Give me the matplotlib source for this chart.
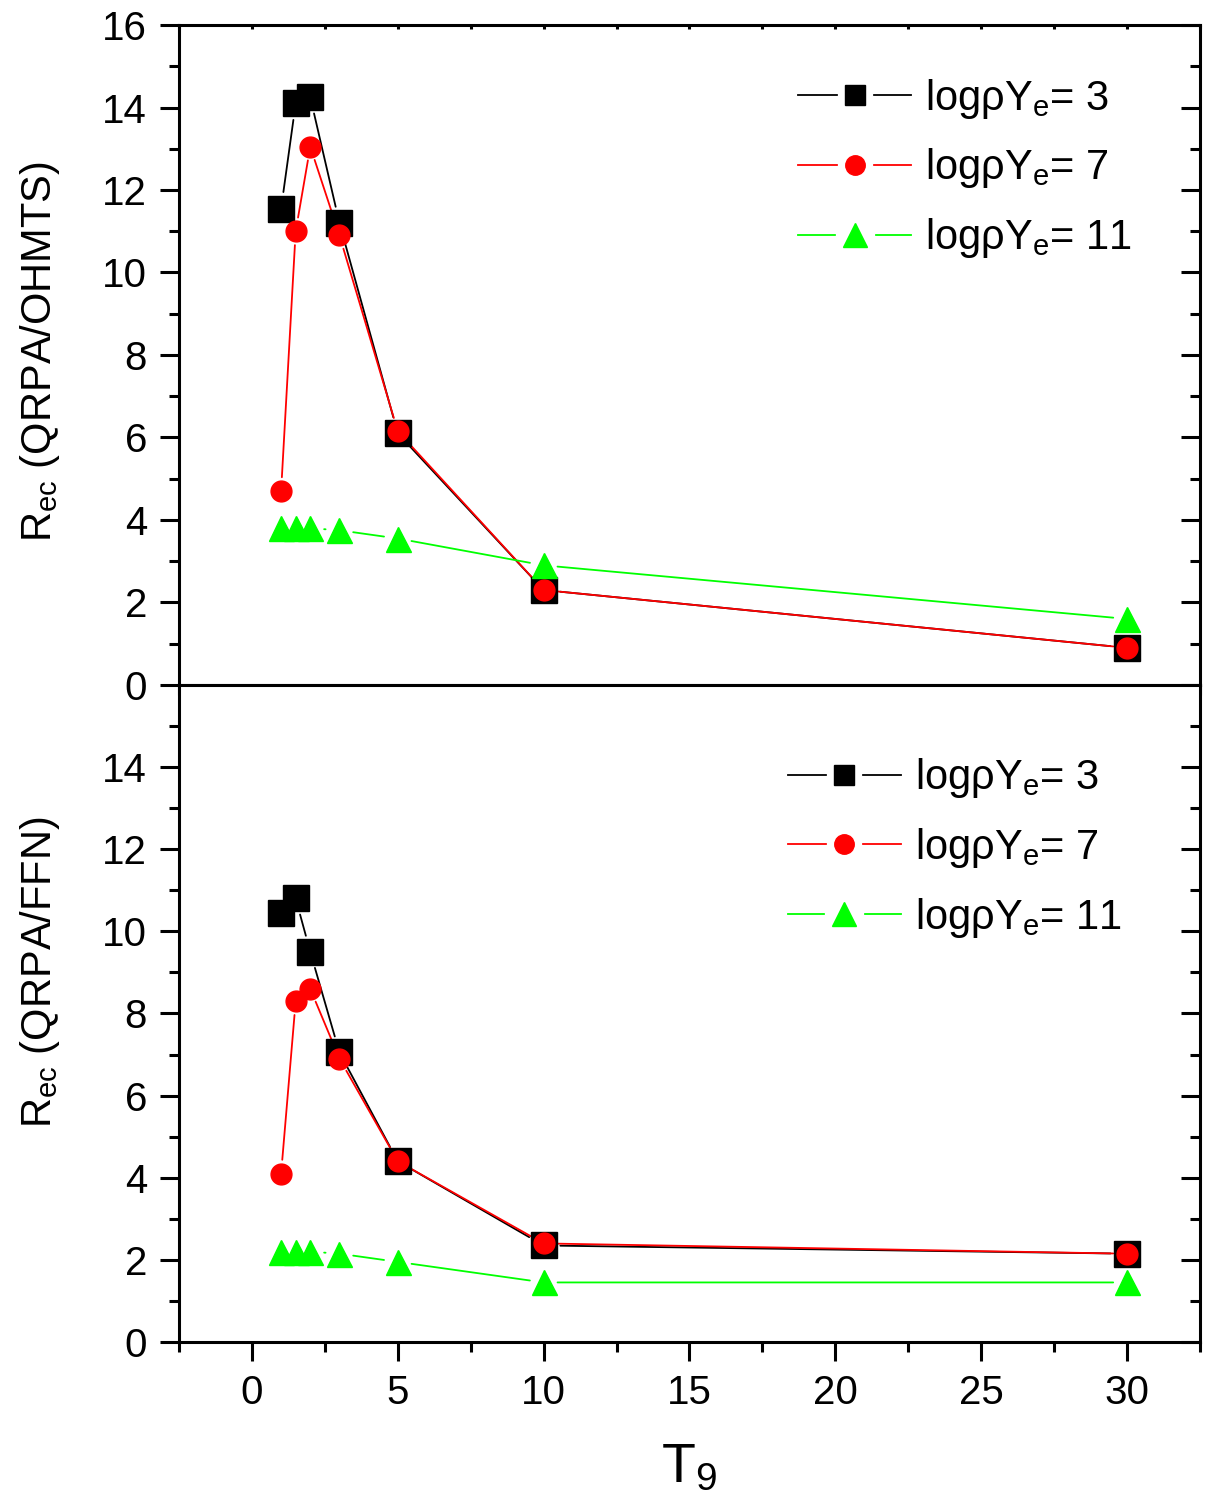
import matplotlib
matplotlib.use("Agg")
import matplotlib.pyplot as plt
from matplotlib.lines import Line2D
from matplotlib.legend_handler import HandlerTuple

plt.rcParams['font.family'] = ['Liberation Sans', 'DejaVu Sans']
plt.rcParams['mathtext.fontset'] = 'custom'
plt.rcParams['mathtext.rm'] = 'Liberation Sans'
plt.rcParams['mathtext.it'] = 'Liberation Sans:italic'

# temperatures T9
t9 = [1, 1.5, 2, 3, 5, 10, 30]

# ratio QRPA / OHMTS
ohmts_3 = [11.55, 14.1, 14.25, 11.2, 6.1, 2.3, 0.9]
ohmts_7 = [4.7, 11.0, 13.05, 10.9, 6.15, 2.3, 0.9]
ohmts_11 = [3.8, 3.8, 3.8, 3.75, 3.55, 2.9, 1.6]

# ratio QRPA / FFN
ffn_3 = [10.45, 10.8, 9.5, 7.05, 4.4, 2.35, 2.15]
ffn_7 = [4.1, 8.3, 8.6, 6.9, 4.4, 2.4, 2.15]
ffn_11 = [2.2, 2.2, 2.2, 2.15, 1.95, 1.45, 1.45]

labels = ['logρY$_{\\rm e}$= 3', 'logρY$_{\\rm e}$= 7', 'logρY$_{\\rm e}$= 11']

styles = [
    dict(color='black', marker='s', ms=19, lms=14, gap=12),
    dict(color='red', marker='o', ms=15, lms=14, gap=10),
    dict(color='#00ff00', marker='^', ms=18, lms=17, gap=10),
]

fig = plt.figure(figsize=(12.07, 15.07), dpi=100)
ax1 = fig.add_axes([0.1483, 0.5455, 0.8459, 0.4379])
ax2 = fig.add_axes([0.1483, 0.1095, 0.8459, 0.4360], sharex=ax1)


def draw_series(ax, x, y, st):
    # Origin-style lines: each segment stops short of the markers
    for i in range(len(x) - 1):
        ax.annotate('', xy=(x[i + 1], y[i + 1]), xytext=(x[i], y[i]),
                    arrowprops=dict(arrowstyle='-', color=st['color'], lw=1.3,
                                    shrinkA=st['gap'], shrinkB=st['gap']),
                    zorder=2)
    ax.plot(x, y, ls='none', marker=st['marker'], ms=st['ms'],
            color=st['color'], mec=st['color'], zorder=3)


def legend_handles():
    hs = []
    for st in styles:
        line = Line2D([], [], color=st['color'], lw=1.3)
        blank = Line2D([], [], ls='none', marker='s', ms=st['lms'],
                       mfc='white', mec='white', mew=11)
        mark = Line2D([], [], ls='none', marker=st['marker'], ms=st['lms'],
                      color=st['color'], mec=st['color'])
        hs.append((line, blank, mark))
    return hs


def right_ticks_inward(ax):
    for t in ax.yaxis.get_ticklines(minor=False)[1::2]:
        t.set_marker(0)
    for t in ax.yaxis.get_ticklines(minor=True)[1::2]:
        t.set_marker(0)


def style_axis(ax):
    for sp in ax.spines.values():
        sp.set_linewidth(2.2)
    ax.set_xlim(-2.5, 32.5)
    ax.set_ylim(0, 16)
    ax.set_xticks([0, 5, 10, 15, 20, 25, 30])
    ax.set_xticks([-2.5, 2.5, 7.5, 12.5, 17.5, 22.5, 27.5, 32.5], minor=True)
    ax.set_yticks(range(0, 17, 2))
    ax.set_yticks(range(1, 17, 2), minor=True)
    ax.tick_params(which='both', direction='out', width=2.2, labelsize=29,
                   top=False, right=False)
    ax.tick_params(which='major', length=14, pad=9)
    ax.tick_params(which='minor', length=7)
    ax.tick_params(axis='y', which='both', right=True, labelright=False)
    right_ticks_inward(ax)


for ax, series, ylab, lab_y, leg_anchor in [
        (ax1, [ohmts_3, ohmts_7, ohmts_11], 'R$_{\\rm ec}$ (QRPA/OHMTS)', 0.505, (0.95, 0.947)),
        (ax2, [ffn_3, ffn_7, ffn_11], 'R$_{\\rm ec}$ (QRPA/FFN)', 0.563, (0.94, 0.917))]:
    style_axis(ax)
    for y, st in zip(series, styles):
        draw_series(ax, t9, y, st)
    ax.set_ylabel(ylab, fontsize=30)
    ax.yaxis.set_label_coords(-0.115, lab_y)
    ax.legend(legend_handles(), labels, handler_map={tuple: HandlerTuple(ndivide=1)},
              loc='upper right', bbox_to_anchor=leg_anchor, frameon=False,
              fontsize=30, handlelength=2.7, handletextpad=0.35, labelspacing=0.62,
              borderaxespad=0)

# lower panel: no "16" label
ax2.set_yticks(range(0, 15, 2))
ax2.set_yticks(range(1, 16, 2), minor=True)
right_ticks_inward(ax2)

# short inward ticks along the top of the upper panel
ax1.tick_params(axis='x', which='both', top=True, labelbottom=False)
for t in ax1.xaxis.get_ticklines(minor=False)[1::2]:
    t.set_marker(3)
    t.set_markersize(3)
for t in ax1.xaxis.get_ticklines(minor=True)[1::2]:
    t.set_marker(3)
    t.set_markersize(3)

ax2.set_xlabel('T$_{\\rm 9}$', fontsize=40, labelpad=22)

fig.savefig('out.png', dpi=100)
